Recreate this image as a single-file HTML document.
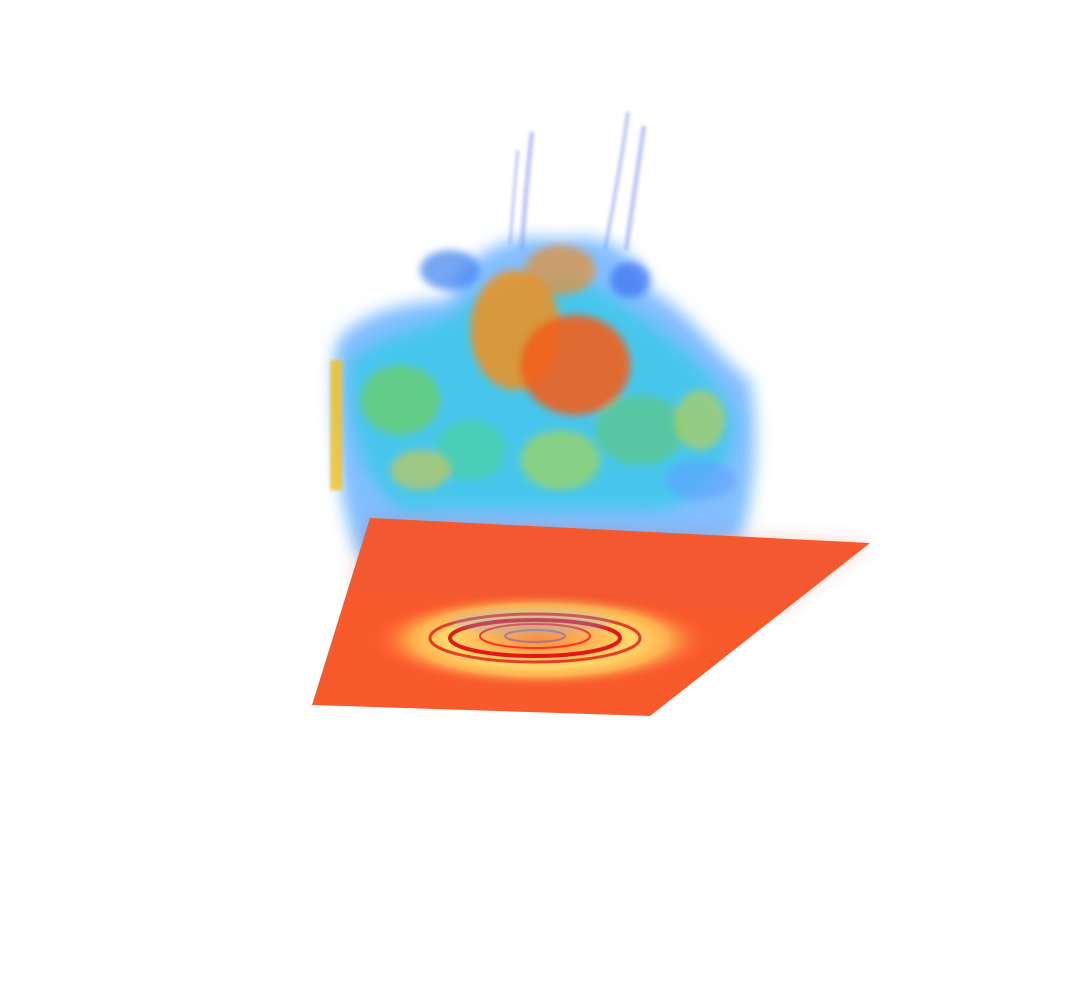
<!DOCTYPE html>
<html><head><meta charset="utf-8">
<style>
html,body{margin:0;padding:0;background:#fff;width:1080px;height:982px;overflow:hidden}
svg{display:block}
</style></head>
<body>
<svg width="1080" height="982" viewBox="0 0 1080 982">
<defs>
<filter id="b8" x="-30%" y="-30%" width="160%" height="160%"><feGaussianBlur stdDeviation="8"/></filter>
<filter id="b4" x="-30%" y="-30%" width="160%" height="160%"><feGaussianBlur stdDeviation="4"/></filter>
<filter id="b2"><feGaussianBlur stdDeviation="1.5"/></filter>
<radialGradient id="halo" cx="0.5" cy="0.5" r="0.5">
<stop offset="0" stop-color="#ff8a3a"/><stop offset="0.55" stop-color="#ffd86a"/><stop offset="0.75" stop-color="#ffb050"/><stop offset="1" stop-color="#f95a2c" stop-opacity="0"/>
</radialGradient>
</defs>
<g stroke="#8c9cf0" stroke-opacity="0.55" fill="none" filter="url(#b2)">
<path d="M532 132 C528 170 524 210 522 250" stroke-width="5"/>
<path d="M518 150 C514 190 512 220 510 245" stroke-width="3"/>
<path d="M628 112 C622 160 612 210 605 250" stroke-width="4"/>
<path d="M644 126 C638 170 632 210 626 250" stroke-width="5"/>
</g>
<g>
<path filter="url(#b8)" fill="#5aa8ff" fill-opacity="0.75" d="M335 350 C340 320 400 300 450 300 C460 250 520 230 560 240 C600 230 640 250 650 290 C690 310 720 360 750 380 C760 430 755 500 740 540 L640 560 L360 560 C340 520 330 420 335 350 Z"/>
<path filter="url(#b8)" fill="#3ac8e8" fill-opacity="0.8" d="M350 360 C380 330 440 330 470 300 C520 270 590 270 630 310 C680 340 720 380 735 420 C735 470 700 500 660 510 L400 510 C360 480 345 420 350 360 Z"/>
<g filter="url(#b4)">
<ellipse cx="400" cy="400" rx="40" ry="35" fill="#6ed060" fill-opacity="0.7"/>
<ellipse cx="470" cy="450" rx="35" ry="30" fill="#4ad0a0" fill-opacity="0.7"/>
<ellipse cx="640" cy="430" rx="45" ry="35" fill="#60c870" fill-opacity="0.6"/>
<ellipse cx="700" cy="420" rx="25" ry="30" fill="#c8d040" fill-opacity="0.6"/>
<ellipse cx="560" cy="460" rx="40" ry="30" fill="#b0d840" fill-opacity="0.6"/>
<ellipse cx="515" cy="330" rx="45" ry="60" fill="#f09020" fill-opacity="0.85"/>
<ellipse cx="575" cy="365" rx="55" ry="50" fill="#f0601c" fill-opacity="0.9"/>
<ellipse cx="560" cy="270" rx="35" ry="25" fill="#e89030" fill-opacity="0.7"/>
<ellipse cx="450" cy="270" rx="30" ry="20" fill="#3a80f0" fill-opacity="0.7"/>
<ellipse cx="630" cy="280" rx="20" ry="18" fill="#3a70f0" fill-opacity="0.7"/>
<ellipse cx="420" cy="470" rx="30" ry="20" fill="#e8c830" fill-opacity="0.55"/>
<ellipse cx="700" cy="480" rx="35" ry="20" fill="#60a0ff" fill-opacity="0.6"/>
</g>
<rect x="330" y="360" width="12" height="130" fill="#f0c020" fill-opacity="0.8" filter="url(#b2)"/>
</g>
<g>
<polygon points="370,518 870,543 650,716 312,705" fill="#f95a2c"/>
<ellipse cx="540" cy="640" rx="170" ry="48" fill="url(#halo)"/>
<g fill="none" stroke="#e01818">
<ellipse cx="535" cy="638" rx="105" ry="24" stroke-width="3" stroke-opacity="0.8"/>
<ellipse cx="535" cy="638" rx="85" ry="18" stroke-width="4"/>
<ellipse cx="535" cy="636" rx="55" ry="12" stroke-width="2" stroke="#ff3020"/>
<ellipse cx="535" cy="636" rx="30" ry="6" stroke-width="2" stroke="#7060c0" stroke-opacity="0.6"/>
</g>
<ellipse cx="530" cy="622" rx="80" ry="12" fill="#8aa0e0" fill-opacity="0.35" filter="url(#b4)"/>
<polygon points="370,518 870,543 780,612 350,590" fill="#d85040" fill-opacity="0.25" filter="url(#b8)"/>
</g>
</svg>
</body></html>
